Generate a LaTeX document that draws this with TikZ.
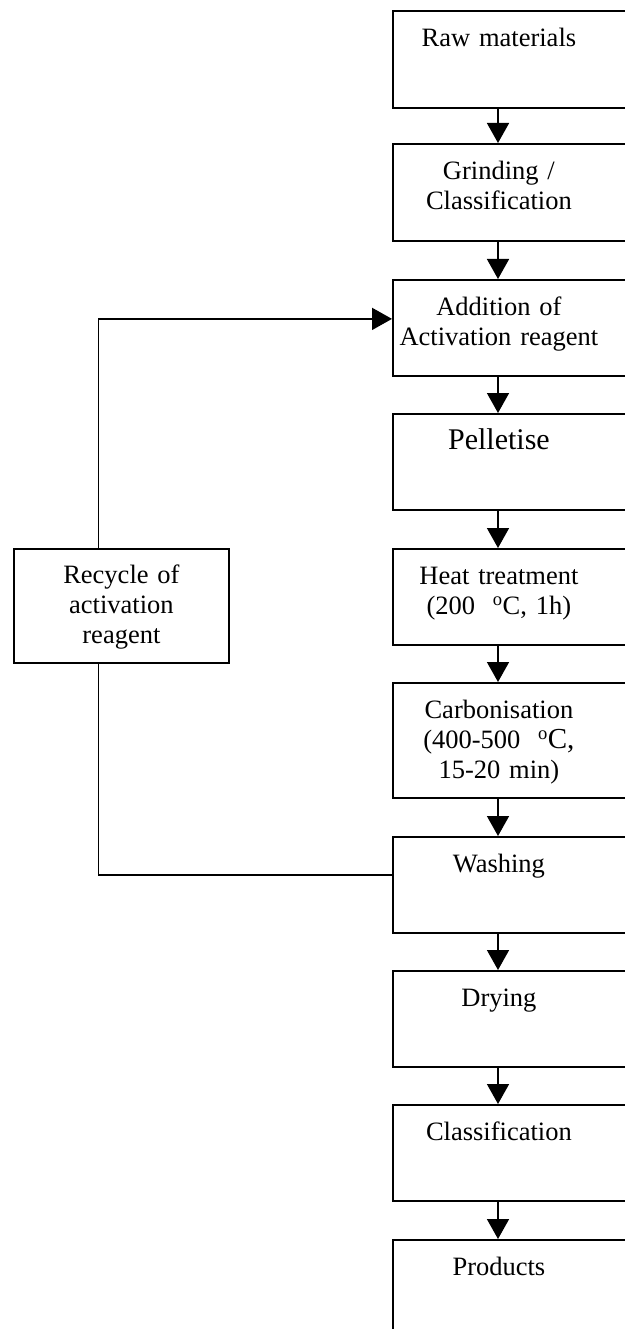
\documentclass[tikz,border=0pt]{standalone}
\usepackage{fontspec}
\setmainfont{Liberation Serif}
\usetikzlibrary{arrows.meta}
\newcommand{\steplabel}[1]{\parbox[t]{212pt}{\centering #1}}

\begin{document}
\begin{tikzpicture}[x = 1pt, y = 1pt,
  stepbox/.style = {draw, line width = 1.8pt, anchor = north west, inner sep = 0pt,
    text width = 250pt, align = left, text height = 36pt, text depth = #1,
    font = \fontsize{26.5}{30}\selectfont},
  flow/.style = {-{Triangle[length = 20pt, width = 22pt]}, line width = 1.6pt}]
  \useasboundingbox (0,0) rectangle (624,-1329);
  % main process column
  \node (raw)   at (392,-10)   [stepbox = 61pt] {\steplabel{Raw materials}};
  \node (grind) at (392,-143)  [stepbox = 61pt] {\steplabel{Grinding /\\ Classification}};
  \node (add)   at (392,-279)  [stepbox = 60pt] {\steplabel{Addition of\\ Activation reagent}};
  \node (pel)   at (392,-413)  [stepbox = 60pt] {\steplabel{\fontsize{30}{34}\selectfont Pelletise}};
  \node (heat)  at (392,-548)  [stepbox = 60pt] {\steplabel{Heat treatment\\ (200~~\textsuperscript{o}C, 1h)}};
  \node (carb)  at (392,-682)  [stepbox = 79pt] {\steplabel{Carbonisation\\ (400-500~~\textsuperscript{o}{\fontsize{29}{30}\selectfont C,}\\ 15-20 min)}};
  \node (wash)  at (392,-836)  [stepbox = 60pt] {\steplabel{Washing}};
  \node (dry)   at (392,-970)  [stepbox = 60pt] {\steplabel{Drying}};
  \node (cls)   at (392,-1104) [stepbox = 60pt] {\steplabel{Classification}};
  \node (prod)  at (392,-1239) [stepbox = 84pt] {\steplabel{Products}};
  % side loop
  \node (recycle) at (13,-548) [draw, line width = 1.8pt, anchor = north west, inner sep = 0pt,
    text width = 215pt, align = center, text height = 35pt, text depth = 79pt,
    font = \fontsize{26.5}{30}\selectfont] {Recycle of\\ activation\\ reagent};
  \foreach \a/\b in {raw/grind, grind/add, add/pel, pel/heat, heat/carb,
                     carb/wash, wash/dry, dry/cls, cls/prod}
    \draw [flow] ([xshift = 106pt]\a.south west) -- ([xshift = 106pt]\b.north west);
  \draw [flow] ([xshift = -23pt]recycle.north) |- ([yshift = 9pt]add.west);
  \draw [line width = 1.6pt] ([xshift = -23pt]recycle.south) |- ([yshift = 10pt]wash.west);
\end{tikzpicture}
\end{document}
